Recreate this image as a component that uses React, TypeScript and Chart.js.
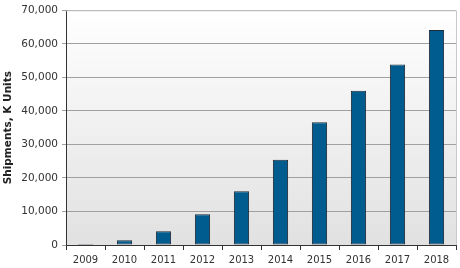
import React, { useEffect, useRef } from "react";
import { Chart, registerables } from "chart.js";

Chart.register(...registerables);

const years = ["2009", "2010", "2011", "2012", "2013", "2014", "2015", "2016", "2017", "2018"];
const shipments = [300, 1400, 4100, 9200, 16000, 25400, 36600, 46000, 53800, 64100];
const yTicks = [0, 10000, 20000, 30000, 40000, 50000, 60000, 70000];

const bgPlugin = {
  id: "bgPlugin",
  beforeDraw(chart: any) {
    const { ctx, chartArea } = chart;
    const { left, right, top, bottom } = chartArea;
    const g = ctx.createLinearGradient(0, top, 0, bottom);
    g.addColorStop(0, "#ffffff");
    g.addColorStop(1, "#e1e1e1");
    ctx.save();
    ctx.fillStyle = g;
    ctx.fillRect(left, top, right - left, bottom - top);
    ctx.restore();
  },
  afterDraw(chart: any) {
    const { ctx, chartArea } = chart;
    const { left, right, top, bottom } = chartArea;
    ctx.save();
    ctx.strokeStyle = "#c8c8c8";
    ctx.lineWidth = 1;
    ctx.beginPath();
    ctx.moveTo(left, top + 0.5);
    ctx.lineTo(right + 0.5, top + 0.5);
    ctx.lineTo(right + 0.5, bottom);
    ctx.stroke();
    ctx.restore();
  },
};

export default function App() {
  const ref = useRef<HTMLCanvasElement>(null);
  useEffect(() => {
    const chart = new Chart(ref.current!, {
      type: "bar",
      data: {
        labels: years,
        datasets: [
          {
            data: shipments,
            backgroundColor: "#005c8f",
            borderColor: "#1c2b38",
            borderWidth: 1,
            borderSkipped: false,
            barPercentage: 0.39,
            categoryPercentage: 1,
          },
        ],
      },
      options: {
        animation: false,
        responsive: false,
        layout: { padding: { top: 8, right: 4, left: 0, bottom: 0 } },
        plugins: { legend: { display: false }, tooltip: { enabled: false } },
        scales: {
          x: {
            grid: {
              offset: true,
              drawOnChartArea: false,
              drawTicks: true,
              tickLength: 5,
              color: "#333333",
            },
            border: { color: "#333333" },
            ticks: {
              color: "#333333",
              font: { family: "DejaVu Sans", size: 10 },
              padding: 4,
            },
            afterFit(scale: any) {
              scale.height = 23;
            },
          },
          y: {
            min: 0,
            max: 70000,
            afterBuildTicks(scale: any) {
              scale.ticks = yTicks.map((v) => ({ value: v }));
            },
            grid: {
              color: "#a0a0a0",
              tickLength: 4,
            },
            border: { color: "#333333" },
            ticks: {
              color: "#333333",
              font: { family: "DejaVu Sans", size: 10.5 },
              padding: 4,
              callback: (v: any) => Number(v).toLocaleString("en-US"),
            },
            title: {
              display: true,
              text: "Shipments, K Units",
              color: "#222222",
              font: { family: "DejaVu Sans", size: 10.5, weight: "bold" },
              padding: { top: 2, bottom: 0 },
            },
            afterFit(scale: any) {
              scale.width = 66;
            },
          },
        },
      },
      plugins: [bgPlugin],
    });
    return () => chart.destroy();
  }, []);
  return (
    <div style={{ position: "fixed", left: 0, top: 0, width: 460, height: 268, background: "#fff" }}>
      <canvas ref={ref} width={460} height={268} />
    </div>
  );
}
